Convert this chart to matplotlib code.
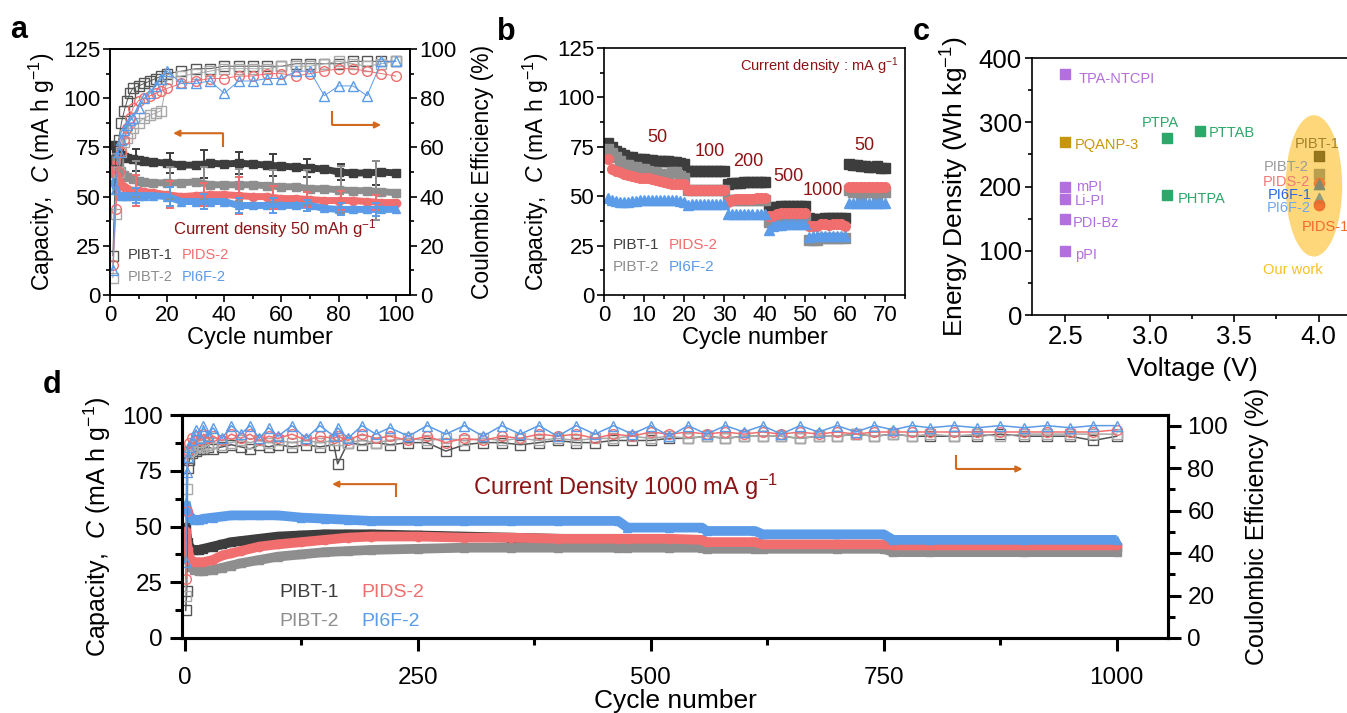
import numpy as np
import matplotlib
matplotlib.use("Agg")
from matplotlib import pyplot as plt
from matplotlib.patches import Ellipse
from matplotlib.ticker import MultipleLocator, FormatStrFormatter

plt.rcParams['font.family'] = ['Liberation Sans', 'DejaVu Sans']
plt.rcParams['mathtext.fontset'] = 'custom'
plt.rcParams['mathtext.rm'] = 'Liberation Sans'
plt.rcParams['mathtext.it'] = 'Liberation Sans:italic'
plt.rcParams['mathtext.bf'] = 'Liberation Sans:bold'

DARK = '#3d3d3d'
GRAY = '#8e8e8e'
LIGHT = '#a8a8a8'
RED = '#f06e6e'
BLUE = '#5b9be8'
WINE = '#8b1414'
ARROW = '#d2691e'

# ---------------- panel a : 50 mA/g cycling ----------------
a_cap_cyc = [1, 2, 3, 4, 5, 6, 8, 10, 12, 15, 20, 25, 30, 35, 40, 45, 50, 55, 60, 65, 70, 75, 80, 85, 90, 95, 100]
a_cap_pibt1 = [76, 74, 72, 71, 70, 69.5, 69, 68.5, 68, 67.5, 67, 66, 66, 67, 66.5, 67, 66.5, 66, 65.5, 65, 64.5, 64, 62.5, 62, 62, 62.5, 62]
a_cap_pibt2 = [62, 70, 67, 63, 61, 60, 59, 58, 57.5, 57, 57, 57, 57.5, 56, 56, 56, 56, 55.5, 55, 55, 54, 54, 53.5, 53, 53, 52.5, 52]
a_cap_pids2 = [66, 61, 58, 56, 55, 54, 53, 53, 52.5, 52, 51, 50, 50.5, 51, 51, 50.5, 50, 50, 49, 49, 48.5, 48, 48, 48, 47.5, 47, 47]
a_cap_pi6f2 = [58, 54, 51, 50.5, 50.5, 50.5, 50.5, 50.5, 50.5, 50.5, 50, 47.5, 47.5, 47.5, 47.5, 45.5, 45.5, 45.5, 45.5, 45.5, 45.5, 44, 43.5, 43.5, 43.5, 43.5, 43.5]

a_ce_cyc = [1, 2, 3, 4, 5, 6, 7, 8, 10, 12, 14, 16, 18, 20, 25, 30, 35, 40, 45, 50, 55, 60, 65, 70, 75, 80, 85, 90, 95, 100]
a_ce_pibt1 = [16, 55, 63, 70, 75, 79, 82, 84, 85, 86, 87, 88, 89, 90, 91, 92, 92, 93, 93, 93, 93, 93, 94, 94, 94, 94, 95, 95, 95, 95]
a_ce_pibt2 = [7, 33, 50, 58, 62, 64, 66, 68, 70, 72, 73, 74, 75, 88, 89, 90, 91, 92, 92, 92, 92, 93, 93, 93, 94, 95, 94, 93, 94, 95]
a_ce_pids2 = [12, 35, 50, 58, 63, 68, 72, 76, 79, 80, 81, 82, 83, 84, 86, 87, 88, 88, 89, 89, 90, 90, 89, 90, 91, 92, 92, 91, 90, 89]
a_ce_pi6f2 = [10, 43, 58, 63, 67, 69, 71, 72, 76, 80, 82, 85, 88, 91, 86, 86, 87, 82, 87, 87, 88, 88, 91, 91, 81, 85, 85, 81, 95, 95]

a_err_cyc = [9, 21, 33, 45, 57, 69, 81, 93]
a_err_pibt1_mean = [68.5, 67, 66.5, 67, 66, 64.5, 62.5, 62]
a_err_pibt1 = [5.5, 5, 7, 5.5, 5.5, 4.5, 4, 6]
a_err_pibt2_mean = [59, 57, 57, 56, 55.5, 54.5, 53.5, 53]
a_err_pibt2 = [9, 8, 8, 8, 8, 9, 12, 15]
a_err_pids2_mean = [53, 51, 51, 50.5, 49.5, 48.5, 48, 47]
a_err_pids2 = [8, 7, 6, 9.5, 6, 4, 5, 4]
a_err_pi6f2_mean = [50.5, 50, 47.5, 45.5, 45.5, 45.5, 43.5, 43.5]
a_err_pi6f2 = [4, 5, 4, 4, 4, 3, 3, 3.5]

# ---------------- panel b : rate capability ----------------
b_cycles = list(range(1, 71))
b_pibt1 = [77, 75, 73, 72, 71, 70, 70, 69, 69, 69, 68.5, 68.5, 68, 68, 68, 68, 67.5, 67.5, 67, 66.5,
           63, 63, 63, 63, 63, 63, 63, 63, 63, 63,
           56, 56.5, 56.5, 56.5, 57, 57, 57, 57, 57, 57,
           44, 44.5, 44.5, 45, 45, 45, 45, 45, 45, 45,
           39, 38.5, 38.5, 38.5, 39, 39, 39, 39, 39, 39,
           66.5, 66, 66, 65.5, 65.5, 65, 65, 65.5, 64.5, 64.5]
b_pibt2 = [74, 72, 70, 68, 66, 66, 65, 65, 64, 64, 63, 62, 62, 61, 61, 61, 62, 62, 60, 59,
           53, 53, 53, 53, 53, 53, 53, 53, 53, 53,
           48, 48, 48, 48, 48, 48, 48, 48, 48, 48,
           37, 38, 38, 39, 39, 39, 39, 39, 39, 39,
           28, 28, 28, 29, 29, 29, 29, 29, 29, 29,
           53, 52, 52, 50, 52, 52, 52, 50, 52, 52]
b_pids2 = [69, 64, 63, 62, 61, 60.5, 60, 59.5, 59, 59, 59, 58.5, 58, 57.5, 57, 56.5, 56, 56, 56, 56,
           53, 53, 53, 53, 53, 53, 53, 53, 53, 53,
           47, 48, 48.5, 48.5, 48.5, 48.5, 48.5, 49, 49, 49,
           40, 40, 41, 41.5, 41.5, 41.5, 41.5, 41.5, 41.5, 41.5,
           35, 35, 35, 36, 36, 35.5, 36, 36, 36, 35,
           54.5, 54.5, 54.5, 54.5, 54.5, 54.5, 54.5, 54.5, 54.5, 54.5]
b_pi6f2 = [49, 48, 47.5, 47, 47, 47, 47.5, 47.5, 48, 48, 48, 48, 48, 48, 48, 48, 48, 48, 47.5, 47,
           45.5, 46, 46, 46, 46, 46, 46, 46, 46, 46,
           41, 41, 41, 41, 41, 41, 41, 41, 41, 41,
           33, 35, 35.5, 35.5, 36, 36, 36, 36, 36, 36,
           29.5, 30, 30, 30, 30, 30, 30, 30, 30, 30,
           46.5, 46.5, 46.5, 46.5, 46.5, 46.5, 46.5, 46.5, 46.5, 46.5]
b_rates = ['50', '100', '200', '500', '1000', '50']

# ---------------- panel c : energy density comparison ----------------
c_names = ['TPA-NTCPI', 'PQANP-3', 'mPI', 'Li-PI', 'PDI-Bz', 'pPI', 'PTPA', 'PTTAB', 'PHTPA']
c_voltage = [2.5, 2.5, 2.5, 2.5, 2.5, 2.5, 3.1, 3.3, 3.1]
c_energy = [375, 270, 200, 180, 150, 100, 276, 287, 186]
ours_names = ['PIBT-1', 'PIBT-2', 'PIDS-2', 'PI6F-1', 'PI6F-2', 'PIDS-1']
ours_voltage = [4.0, 4.0, 4.0, 4.0, 4.0, 4.0]
ours_energy = [247, 220, 206, 204, 182, 171]

# ---------------- panel d : long cycling at 1000 mA/g ----------------
d_cap_cyc = [1, 3, 6, 10, 15, 20, 30, 40, 50, 60, 80, 100, 125, 150, 175, 200, 250, 300, 350, 400,
             465, 475, 520, 555, 560, 612, 620, 700, 750, 760, 800, 900, 1000]
d_cap_pibt1 = [50, 43, 40, 39.5, 39.5, 40, 41, 42, 43, 43.5, 44.5, 45.5, 46, 46.5, 46.5, 46.5, 46, 45.5, 45, 44.5,
               44, 44, 44, 43.5, 42.5, 42.5, 41.5, 41.5, 41.5, 41, 41, 41, 41]
d_cap_pibt2 = [45, 36, 32, 30.5, 30, 30, 30.5, 31.5, 32.5, 33.5, 35, 36.5, 37.5, 38.5, 39, 39.5, 40, 40.5, 40.5, 40.5,
               40.5, 40.5, 40.5, 40.5, 40, 40, 40, 40, 40, 38.5, 38.5, 38.5, 38.5]
d_cap_pids2 = [48, 40, 35, 34, 34, 34, 35, 37, 38, 39, 41, 42, 43, 44, 45, 45.5, 45.5, 45, 45, 44.5,
               44.5, 44.5, 44.5, 44, 43, 43, 42, 42, 42, 41.5, 41.5, 41.5, 41.5]
d_cap_pi6f2 = [61, 57, 54, 53, 53, 53.5, 54, 54.5, 55, 55, 55, 55, 54, 53.5, 53, 52.5, 52.5, 52.5, 52.5, 52.5,
               52.5, 49.5, 49.5, 49.5, 48, 48, 46.5, 46.5, 46.5, 44, 44, 44, 44]

d_ce_cyc = [1, 2, 3, 5, 8, 12, 16, 20, 25, 30, 40, 50, 60, 70, 80, 90, 100, 115, 130, 145, 160, 164, 175, 190,
            205, 220, 240, 260, 280, 300, 320, 340, 360, 380, 400, 420, 440, 460, 480, 500, 520, 540, 560, 580,
            600, 620, 640, 660, 680, 700, 720, 740, 760, 780, 800, 825, 850, 875, 900, 925, 950, 975, 1000]
d_ce_pibt1 = [13, 22, 80, 84, 87, 88, 89, 89, 90, 89, 90, 91, 90, 89, 91, 90, 91, 90, 91, 90, 91, 82, 92, 91,
              92, 91, 92, 92, 88, 91, 92, 92, 91, 92, 93, 92, 92, 93, 93, 93, 94, 94, 95, 94, 95, 95, 95, 94,
              95, 95, 96, 95, 96, 95, 95, 95, 95, 96, 95, 95, 95, 93, 95]
d_ce_pibt2 = [20, 70, 85, 88, 89, 90, 91, 90, 91, 92, 91, 92, 93, 92, 93, 92, 93, 92, 93, 92, 93, 93, 92, 93,
              92, 93, 94, 93, 94, 93, 94, 93, 94, 93, 94, 93, 94, 94, 95, 94, 95, 94, 95, 94, 95, 95, 95, 94,
              95, 95, 96, 95, 96, 95, 96, 95, 96, 95, 96, 96, 96, 96, 96]
d_ce_pids2 = [28, 60, 88, 92, 94, 95, 93, 96, 94, 95, 93, 96, 94, 96, 93, 95, 94, 96, 93, 95, 94, 95, 93, 96,
              94, 95, 93, 95, 92, 94, 93, 95, 94, 96, 95, 96, 94, 96, 95, 97, 96, 97, 96, 97, 96, 97, 96, 97,
              96, 97, 96, 97, 97, 97, 97, 97, 97, 97, 97, 97, 97, 97, 98]
d_ce_pi6f2 = [36, 78, 85, 90, 93, 98, 94, 100, 95, 99, 94, 100, 96, 100, 94, 99, 95, 100, 94, 100, 95, 99, 94, 100,
              96, 99, 95, 100, 96, 100, 95, 100, 96, 100, 95, 100, 96, 100, 96, 100, 95, 100, 96, 100, 97, 100,
              96, 100, 97, 100, 97, 100, 98, 100, 99, 100, 99, 100, 99, 100, 99, 100, 100]

W, H = 1347, 713


def rect(left, top, right, bottom):
    return [left / W, 1 - bottom / H, (right - left) / W, (bottom - top) / H]


def style_ticks(ax, size, width=1.2, major=5, minor=3):
    ax.tick_params(which='major', direction='out', length=major, width=width, labelsize=size, pad=2)
    ax.tick_params(which='minor', direction='out', length=minor, width=width)
    for s in ax.spines.values():
        s.set_linewidth(width)


def elbow_arrow(ax, x0, y0, x1, y1, lw=1.5):
    # vertical stroke from (x0, y0) to (x0, y1), then arrow to (x1, y1)
    ax.plot([x0, x0], [y0, y1], color=ARROW, lw=lw, solid_capstyle='butt')
    ax.annotate('', xy=(x1, y1), xytext=(x0, y1),
                arrowprops=dict(arrowstyle='-|>', color=ARROW, lw=lw, mutation_scale=9,
                                shrinkA=0, shrinkB=0))


fig = plt.figure(figsize=(W / 100, H / 100), dpi=100)
cap_label = 'Capacity,  $\\it{C}$ (mA h g$^{-1}$)'

# ================= panel a =================
ax = fig.add_axes(rect(110, 49, 410, 295))
series_a = [(a_cap_pibt1, DARK, 's'), (a_cap_pibt2, GRAY, 's'), (a_cap_pids2, RED, 'o'), (a_cap_pi6f2, BLUE, '^')]
for vals, col, mk in series_a:
    ax.plot(a_cap_cyc, vals, color=col, lw=5, marker=mk, ms=6, mec=col, mfc=col, solid_capstyle='butt')
for mean, err, col in [(a_err_pibt1_mean, a_err_pibt1, DARK), (a_err_pibt2_mean, a_err_pibt2, GRAY),
                       (a_err_pids2_mean, a_err_pids2, RED), (a_err_pi6f2_mean, a_err_pi6f2, BLUE)]:
    ax.errorbar(a_err_cyc, mean, yerr=err, fmt='none', ecolor=col, elinewidth=1.4, capsize=3, capthick=1.4)
ax.set_xlim(0, 105)
ax.set_ylim(0, 125)
ax.xaxis.set_major_locator(MultipleLocator(20))
ax.xaxis.set_minor_locator(MultipleLocator(10))
ax.yaxis.set_major_locator(MultipleLocator(25))
ax.yaxis.set_minor_locator(MultipleLocator(12.5))
style_ticks(ax, 16)
ax.set_xlabel('Cycle number', fontsize=17, labelpad=1)
ax.set_ylabel(cap_label, fontsize=16.5, labelpad=4)
ax.text(22, 34, 'Current density 50 mAh g$^{-1}$', color=WINE, fontsize=12, va='center')
ax.text(6.3, 20.3, 'PIBT-1', color=DARK, fontsize=10.5, va='center')
ax.text(25, 20.3, 'PIDS-2', color=RED, fontsize=10.5, va='center')
ax.text(6.3, 9.1, 'PIBT-2', color=GRAY, fontsize=10.5, va='center')
ax.text(25, 9.1, 'PI6F-2', color=BLUE, fontsize=10.5, va='center')
elbow_arrow(ax, 39.5, 75.4, 22.1, 82.2)
elbow_arrow(ax, 77.8, 93.5, 94.9, 86.4)

ax2 = ax.twinx()
for vals, col, mk in [(a_ce_pibt1, '#555555', 's'), (a_ce_pibt2, LIGHT, 's'),
                      (a_ce_pids2, RED, 'o'), (a_ce_pi6f2, BLUE, '^')]:
    ax2.plot(a_ce_cyc, vals, color=col, lw=0.7, marker=mk, ms=7, mfc='none', mec=col, mew=1.0)
ax2.set_ylim(0, 100)
ax2.yaxis.set_major_locator(MultipleLocator(20))
ax2.yaxis.set_minor_locator(MultipleLocator(10))
style_ticks(ax2, 16)
ax2.set_ylabel('Coulombic Efficiency (%)', fontsize=16.5, labelpad=10)

# ================= panel b =================
bx = fig.add_axes(rect(604, 48, 905, 295))
for vals, col, mk in [(b_pibt1, DARK, 's'), (b_pibt2, GRAY, 's'), (b_pids2, RED, 'o'), (b_pi6f2, BLUE, '^')]:
    bx.plot(b_cycles, vals, ls='none', marker=mk, ms=7, mec=col, mfc=col)
bx.set_xlim(0, 75)
bx.set_ylim(0, 125)
bx.xaxis.set_major_locator(MultipleLocator(10))
bx.xaxis.set_minor_locator(MultipleLocator(5))
bx.yaxis.set_major_locator(MultipleLocator(25))
bx.yaxis.set_minor_locator(MultipleLocator(12.5))
style_ticks(bx, 16)
bx.set_xlabel('Cycle number', fontsize=17, labelpad=1)
bx.set_ylabel(cap_label, fontsize=16.5, labelpad=4)
bx.text(33.9, 115.9, 'Current density : mA g$^{-1}$', color=WINE, fontsize=10.5, va='center')
for txt, (x, y) in zip(b_rates, [(13.2, 79.8), (26.4, 72.7), (35.9, 67.6), (45.9, 60.0), (54.6, 52.8), (65.0, 75.7)]):
    bx.text(x, y, txt, color=WINE, fontsize=13, ha='center', va='center')
bx.text(2.2, 25.4, 'PIBT-1', color=DARK, fontsize=11, va='center')
bx.text(16.2, 25.4, 'PIDS-2', color=RED, fontsize=11, va='center')
bx.text(2.2, 14.2, 'PIBT-2', color=GRAY, fontsize=11, va='center')
bx.text(16.2, 14.2, 'PI6F-2', color=BLUE, fontsize=11, va='center')

# ================= panel c =================
cx = fig.add_axes(rect(1031.7, 58, 1352.4, 315))
c_colors = ['#b36ee0', '#c8960c', '#b36ee0', '#b36ee0', '#b36ee0', '#b36ee0', '#2ca86a', '#2ca86a', '#2ca86a']
c_label_pos = [(2.58, 368, 'left'), (2.555, 264, 'left'), (2.56, 199, 'left'), (2.555, 177, 'left'),
               (2.545, 143, 'left'), (2.555, 94, 'left'), (3.06, 299, 'center'), (3.35, 284, 'left'),
               (3.165, 180, 'left')]
cx.add_patch(Ellipse((3.972, 201), 0.335, 220, facecolor='#fdd36b', edgecolor='none', alpha=0.9, zorder=1))
for name, v, e, col, (tx, ty, ha) in zip(c_names, c_voltage, c_energy, c_colors, c_label_pos):
    cx.scatter([v], [e], marker='s', s=45, color=col, zorder=3)
    cx.text(tx, ty, name, color=col, fontsize=10.5, ha=ha, va='center', zorder=4)
ours_marker = ['s', 's', 'o', '^', '^', 'o']
ours_mcol = ['#8c6d14', '#b39a4a', '#f07830', '#7d8b6e', '#8a9878', '#f06a28']
ours_tcol = ['#a5822a', '#9a9a9a', '#f07878', '#2a66e8', '#6fa8ec', '#f4692a']
ours_lpos = [(3.86, 266), (3.675, 230), (3.668, 207), (3.70, 187), (3.69, 166), (3.90, 137)]
for name, v, e, mk, mc, tc, (tx, ty) in zip(ours_names, ours_voltage, ours_energy, ours_marker,
                                             ours_mcol, ours_tcol, ours_lpos):
    cx.scatter([v], [e], marker=mk, s=55, color=mc, alpha=0.9, zorder=3)
    cx.text(tx, ty, name, color=tc, fontsize=10.5, va='center', zorder=4)
cx.text(3.67, 70, 'Our work', color='#f8c020', fontsize=10.5, va='center')
cx.set_xlim(2.3, 4.2)
cx.set_ylim(0, 400)
cx.xaxis.set_major_locator(MultipleLocator(0.5))
cx.xaxis.set_minor_locator(MultipleLocator(0.25))
cx.yaxis.set_major_locator(MultipleLocator(100))
cx.yaxis.set_minor_locator(MultipleLocator(50))
cx.xaxis.set_major_formatter(FormatStrFormatter('%.1f'))
style_ticks(cx, 18.5)
cx.tick_params(axis='x', pad=2)
cx.set_xlabel('Voltage (V)', fontsize=19, labelpad=6)
cx.set_ylabel('Energy Density (Wh kg$^{-1}$)', fontsize=19, labelpad=6)

# ================= panel d =================
dx = fig.add_axes(rect(182, 415, 1168, 638))
for vals, col, mk in [(d_cap_pibt1, DARK, 's'), (d_cap_pibt2, GRAY, 's'),
                      (d_cap_pids2, RED, 'o'), (d_cap_pi6f2, BLUE, '^')]:
    dx.plot(d_cap_cyc, vals, color=col, lw=7, marker=mk, ms=6, mec=col, mfc=col, solid_capstyle='butt')
dx.set_xlim(-3, 1055)
dx.set_ylim(0, 100)
dx.xaxis.set_major_locator(MultipleLocator(250))
dx.xaxis.set_minor_locator(MultipleLocator(125))
dx.yaxis.set_major_locator(MultipleLocator(25))
dx.yaxis.set_minor_locator(MultipleLocator(12.5))
style_ticks(dx, 17.5, width=2.2, major=9, minor=5)
dx.tick_params(axis='x', pad=12)
dx.tick_params(axis='y', pad=5)
dx.set_xlabel('Cycle number', fontsize=19, labelpad=0)
dx.set_ylabel(cap_label, fontsize=18, labelpad=6)
dx.text(309, 67.7, 'Current Density 1000 mA g$^{-1}$', color=WINE, fontsize=17, va='center')
dx.text(101, 20.2, 'PIBT-1', color=DARK, fontsize=14, va='center')
dx.text(190, 20.2, 'PIDS-2', color=RED, fontsize=14, va='center')
dx.text(101, 7.2, 'PIBT-2', color=GRAY, fontsize=14, va='center')
dx.text(190, 7.2, 'PI6F-2', color=BLUE, fontsize=14, va='center')
elbow_arrow(dx, 227, 63.2, 158, 69.0)
elbow_arrow(dx, 828, 82.0, 899, 75.8)

dx2 = dx.twinx()
for vals, col, mk in [(d_ce_pibt1, '#555555', 's'), (d_ce_pibt2, LIGHT, 's'),
                      (d_ce_pids2, RED, 'o'), (d_ce_pi6f2, BLUE, '^')]:
    dx2.plot(d_ce_cyc, vals, color=col, lw=1.1, marker=mk, ms=7, mfc='none', mec=col, mew=1.0)
dx2.set_ylim(0, 105)
dx2.yaxis.set_major_locator(MultipleLocator(20))
dx2.yaxis.set_minor_locator(MultipleLocator(10))
style_ticks(dx2, 17.5, width=2.2, major=9, minor=5)
dx2.tick_params(axis='y', pad=5)
dx2.set_ylabel('Coulombic Efficiency (%)', fontsize=18, labelpad=12)

# panel letters
for letter, (px, py) in zip('abcd', [(10, 38), (497, 40), (913, 40), (43, 393)]):
    fig.text(px / W, 1 - py / H, letter, fontsize=22, fontweight='bold', va='baseline')

fig.savefig('out.png', dpi=100)
